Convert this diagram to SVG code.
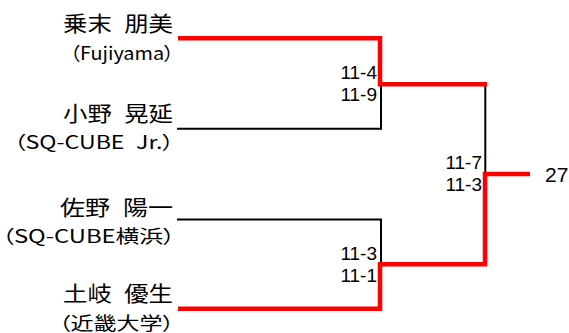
<svg xmlns="http://www.w3.org/2000/svg" width="569" height="333" viewBox="0 0 569 333">
<style>
text{font-family:"Noto Sans CJK JP","Noto Sans",sans-serif;fill:#000;}
.nm{font-size:21px;text-anchor:end;word-spacing:6px;}
.af{font-size:18px;text-anchor:end;font-feature-settings:"palt";}
.sc{font-family:"Liberation Sans",Arial,sans-serif;font-size:19px;text-anchor:end;}
.win{fill:none;stroke:#FF0000;stroke-width:4.5;stroke-linejoin:miter;stroke-linecap:butt;}
.los{fill:none;stroke:#000;stroke-width:2;stroke-linecap:square;}
</style>
<rect width="569" height="333" fill="#fff"/>
<g id="connectors">
<path class="los" d="M178,128.7 H381 V86"/>
<path class="los" d="M178,219.5 H381 V262"/>
<path class="los" d="M485.3,86 V172"/>
<path class="win" d="M178,38.3 H380 V84.3 H487"/>
<path class="win" d="M178,308.8 H380 V264.3 H485 V174 H530"/>
</g>
<g id="p1"><text class="nm" x="173" y="31" textLength="110" lengthAdjust="spacingAndGlyphs">乗末 朋美</text><text class="af" x="174" y="60" textLength="104" lengthAdjust="spacingAndGlyphs">（Fujiyama）</text></g>
<g id="p2"><text class="nm" x="173" y="121" textLength="110" lengthAdjust="spacingAndGlyphs">小野 晃延</text><text class="af" x="174" y="149" textLength="160" lengthAdjust="spacingAndGlyphs" style="word-spacing:5px">（SQ-CUBE Jr.）</text></g>
<g id="p3"><text class="nm" x="173" y="215" textLength="113" lengthAdjust="spacingAndGlyphs">佐野 陽一</text><text class="af" x="175" y="243" textLength="173" lengthAdjust="spacingAndGlyphs">（SQ-CUBE横浜）</text></g>
<g id="p4"><text class="nm" x="173" y="301" textLength="110" lengthAdjust="spacingAndGlyphs">土岐 優生</text><text class="af" x="174" y="330" textLength="115" lengthAdjust="spacingAndGlyphs">（近畿大学）</text></g>
<g id="s1"><text class="sc" x="377" y="79">11-4</text><text class="sc" x="377" y="101">11-9</text></g>
<g id="s2"><text class="sc" x="377" y="260">11-3</text><text class="sc" x="377" y="282">11-1</text></g>
<g id="s3"><text class="sc" x="482" y="169">11-7</text><text class="sc" x="482" y="191">11-3</text></g>
<g id="result"><text x="545" y="182" style="font-family:'Liberation Sans',Arial,sans-serif;font-size:21px">27</text></g>
</svg>
